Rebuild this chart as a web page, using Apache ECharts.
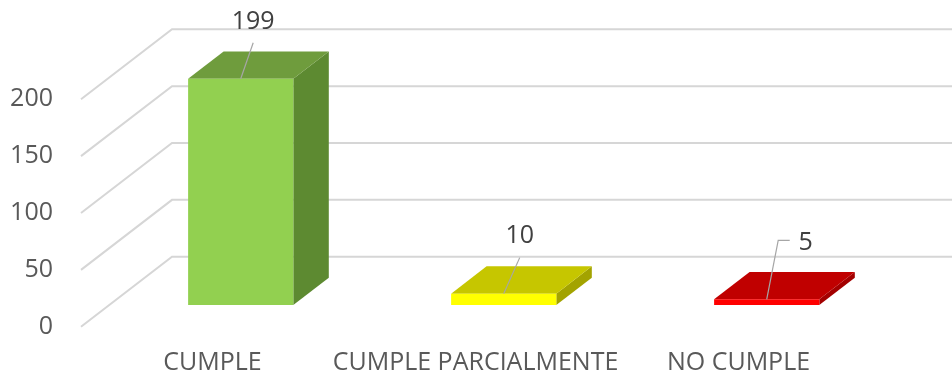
<!DOCTYPE html>
<html>
<head>
<meta charset="utf-8">
<script src="https://cdn.jsdelivr.net/npm/echarts@6/dist/echarts.min.js"></script>
<style>
  html, body { margin: 0; padding: 0; background: #ffffff; }
  #chart { width: 952px; height: 375px; }
</style>
</head>
<body>
<div id="chart"></div>
<script>
// Chart data
const categories = ['CUMPLE', 'CUMPLE PARCIALMENTE', 'NO CUMPLE'];
const values = [199, 10, 5];
const yTicks = [0, 50, 100, 150, 200];

// Face colours of each column (front, top, right side)
const faceColors = ['#92D050', '#FFFF00', '#FF0000'];
const topColors = ['#6F9C3D', '#C6C600', '#C00000'];
const sideColors = ['#5D8A31', '#A3A300', '#A30000'];

// Oblique projection of the floor: offset of the back wall from the front edge
const DEPTH = { dx: 91, dy: -70 };
// Columns occupy this slice of the floor depth
const BAR_FRONT = 0.31;
const BAR_BACK = 0.70;
const BAR_WIDTH_RATIO = 0.4;

// Leader lines and value labels, relative to the top centre of each front face
const labelLayout = [
  { leader: [[12.5, -36]], text: [12.5, -57] },
  { leader: [[16, -36]], text: [16, -58] },
  { leader: [[11.5, -59], [23, -59]], text: [39, -56] }
];

const FONT = '"Open Sans", "Liberation Sans", sans-serif';
const GRID_COLOR = '#D6D6D6';

const chart = echarts.init(document.getElementById('chart'), null, { renderer: 'canvas' });

function renderWallLine(params, api) {
  const cs = params.coordSys;
  const y = api.coord([0, api.value(1)])[1];
  const x0 = cs.x;
  return {
    type: 'polyline',
    silent: true,
    shape: {
      points: [
        [x0, y],
        [x0 + DEPTH.dx, y + DEPTH.dy],
        [cs.x + cs.width + DEPTH.dx, y + DEPTH.dy]
      ]
    },
    style: { stroke: GRID_COLOR, lineWidth: 2, fill: null }
  };
}

function renderColumn(params, api) {
  const i = api.value(0);
  const v = api.value(1);
  const base = api.coord([i, 0]);
  const top = api.coord([i, v]);
  const w = api.size([1, 0])[0] * BAR_WIDTH_RATIO;

  const fx = base[0] + DEPTH.dx * BAR_FRONT - w / 2;
  const fyBottom = base[1] + DEPTH.dy * BAR_FRONT;
  const fyTop = top[1] + DEPTH.dy * BAR_FRONT;
  const bdx = DEPTH.dx * (BAR_BACK - BAR_FRONT);
  const bdy = DEPTH.dy * (BAR_BACK - BAR_FRONT);

  const anchor = [fx + w / 2, fyTop];
  const layout = labelLayout[i];
  const leaderPts = [anchor].concat(layout.leader.map(p => [anchor[0] + p[0], anchor[1] + p[1]]));

  return {
    type: 'group',
    children: [
      {
        type: 'polygon',
        shape: { points: [[fx + w, fyTop], [fx + w + bdx, fyTop + bdy], [fx + w + bdx, fyBottom + bdy], [fx + w, fyBottom]] },
        style: { fill: sideColors[i] }
      },
      {
        type: 'polygon',
        shape: { points: [[fx, fyTop], [fx + bdx, fyTop + bdy], [fx + w + bdx, fyTop + bdy], [fx + w, fyTop]] },
        style: { fill: topColors[i] }
      },
      {
        type: 'rect',
        shape: { x: fx, y: fyTop, width: w, height: fyBottom - fyTop },
        style: { fill: faceColors[i] }
      },
      {
        type: 'polyline',
        shape: { points: leaderPts },
        style: { stroke: '#A6A6A6', lineWidth: 1.2, fill: null }
      },
      {
        type: 'text',
        style: {
          x: anchor[0] + layout.text[0],
          y: anchor[1] + layout.text[1],
          text: String(v),
          fill: '#404040',
          font: '25px ' + FONT,
          align: 'center',
          verticalAlign: 'middle'
        }
      }
    ]
  };
}

chart.setOption({
  animation: false,
  backgroundColor: '#ffffff',
  grid: { left: 81, right: 82, top: 99.3, bottom: 48.3, containLabel: false, outerBoundsMode: 'none' },
  xAxis: {
    type: 'category',
    data: categories,
    axisLine: { show: false },
    axisTick: { show: false },
    splitLine: { show: false },
    axisLabel: {
      color: '#595959',
      fontSize: 25,
      fontFamily: FONT,
      margin: 24,
      interval: 0
    }
  },
  yAxis: {
    type: 'value',
    min: 0,
    max: 200,
    interval: 50,
    axisLine: { show: false },
    axisTick: { show: false },
    splitLine: { show: false },
    axisLabel: {
      color: '#595959',
      fontSize: 25,
      fontFamily: FONT,
      margin: 28
    }
  },
  series: [
    {
      type: 'custom',
      name: 'walls',
      silent: true,
      z: 1,
      renderItem: renderWallLine,
      encode: { x: 0, y: 1 },
      data: yTicks.map(t => [0, t])
    },
    {
      type: 'custom',
      name: 'columns',
      z: 2,
      renderItem: renderColumn,
      encode: { x: 0, y: 1 },
      data: values.map((v, i) => [i, v])
    }
  ]
});
</script>
</body>
</html>
